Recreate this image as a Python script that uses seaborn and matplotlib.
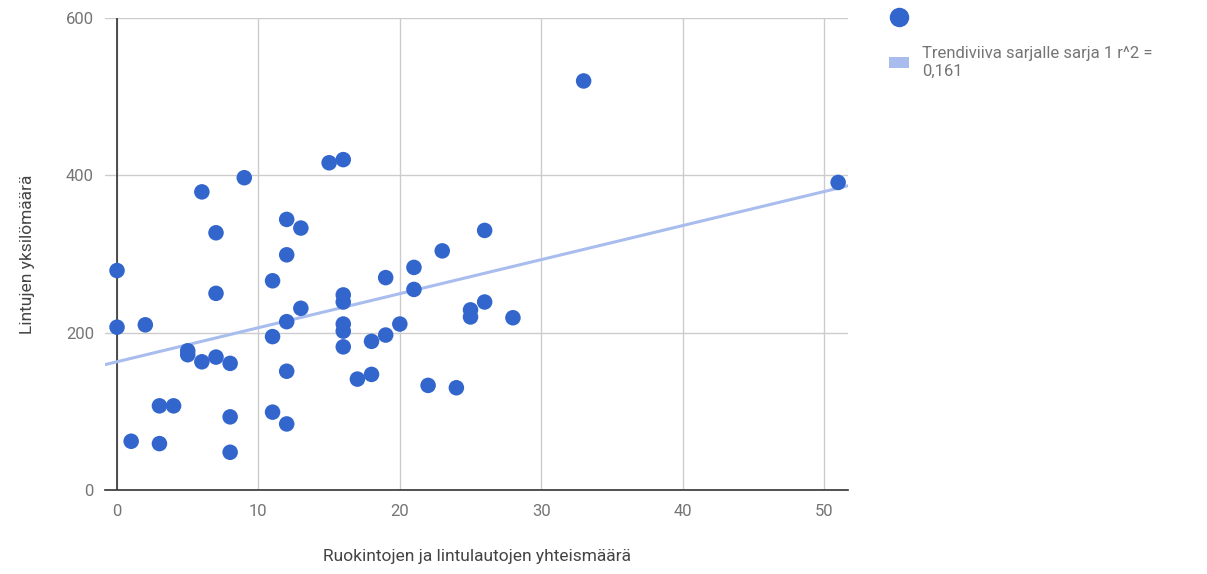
import numpy as np
import pandas as pd
import matplotlib.pyplot as plt
import seaborn as sns
from matplotlib.lines import Line2D
from matplotlib.patches import Patch

# Feeding sites + bird tables (x) vs. number of birds (y)
feeders = [0, 0, 1, 2, 3, 3, 4, 5, 5, 6, 6, 7, 7, 7, 8, 8, 8, 9,
           11, 11, 11, 12, 12, 12, 12, 12, 13, 13, 15, 16, 16, 16, 16, 16, 16,
           17, 18, 18, 19, 19, 20, 21, 21, 22, 23, 24, 25, 25, 26, 26, 28, 33, 51]
birds = [279, 207, 62, 210, 107, 59, 107, 177, 172, 379, 163, 327, 250, 169, 161, 93, 48, 397,
         266, 195, 99, 344, 299, 214, 151, 84, 333, 231, 416, 420, 248, 239, 211, 202, 182,
         141, 189, 147, 270, 197, 211, 283, 255, 133, 304, 130, 229, 220, 330, 239, 219, 520, 391]

x_ticks = [0, 10, 20, 30, 40, 50]
y_ticks = [0, 200, 400, 600]
x_title = "Ruokintojen ja lintulautojen yhteismäärä"
y_title = "Lintujen yksilömäärä"
trend_label = "Trendiviiva sarjalle sarja 1 r^2 =\n0,161"

df = pd.DataFrame({"feeders": feeders, "birds": birds})

sns.set_theme(style="whitegrid")
plt.rcParams["font.family"] = ["Roboto", "DejaVu Sans"]

fig = plt.figure(figsize=(12.07, 5.74), dpi=100)
ax = fig.add_axes([0.087, 0.1463, 0.6156, 0.8223])

xmin, xmax = -0.85, 51.7
ax.set_xlim(xmin, xmax)
ax.set_ylim(0, 600)

# linear trend line
slope, intercept = np.polyfit(df["feeders"], df["birds"], 1)
xs = np.array([xmin, xmax])
ax.plot(xs, intercept + slope * xs, color="#a8bdee", lw=2.2, zorder=2)

sns.scatterplot(data=df, x="feeders", y="birds", ax=ax, color="#3366cc",
                s=125, edgecolor="none", zorder=3, legend=False)

ax.axvline(0, color="#333333", lw=1.2, zorder=1.5)
ax.set_xticks(x_ticks)
ax.set_yticks(y_ticks)
ax.grid(True, color="#cccccc", lw=1)
for side in ["top", "right", "left"]:
    ax.spines[side].set_visible(False)
ax.spines["bottom"].set_color("#333333")
ax.spines["bottom"].set_linewidth(1.2)
ax.tick_params(axis="both", labelsize=12, colors="#757575", length=0)
ax.tick_params(axis="x", pad=10)
ax.tick_params(axis="y", pad=8)

ax.set_xlabel(x_title, fontsize=12.5, color="#444444", labelpad=22)
ax.set_ylabel(y_title, fontsize=12.5, color="#444444", labelpad=22)

handles = [
    Line2D([], [], marker="o", ls="none", color="#3366cc", markersize=13),
    Patch(facecolor="#a8bdee", edgecolor="none"),
]
fig.legend(handles, ["", trend_label], loc="upper left", bbox_to_anchor=(0.724, 1.008),
           frameon=False, fontsize=12, labelcolor="#757575", handlelength=1.2,
           handletextpad=0.8, labelspacing=1.25)

fig.savefig("out.png", dpi=100)
